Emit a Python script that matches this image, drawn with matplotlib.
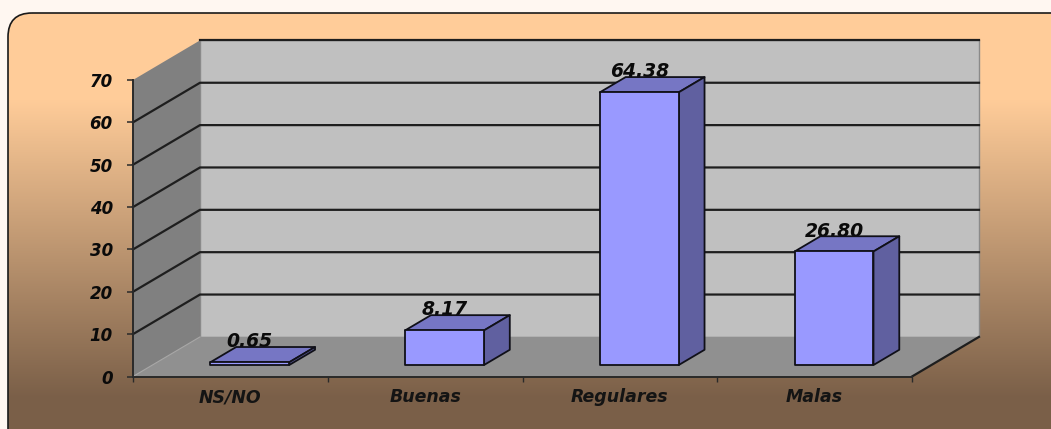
#!/usr/bin/env python3
# -*- coding: utf-8 -*-
"""3D-look column chart drawn on a flat axes with an oblique projection"""

import numpy as np
import matplotlib
matplotlib.use("Agg")
import matplotlib.pyplot as plt
from matplotlib.colors import LinearSegmentedColormap
from matplotlib.patches import FancyBboxPatch, Polygon

categories = ["NS/NO", "Buenas", "Regulares", "Malas"]
values = [0.65, 8.17, 64.38, 26.80]
value_labels = ["0.65", "8.17", "64.38", "26.80"]
y_ticks = [0, 10, 20, 30, 40, 50, 60, 70]

W, H = 1051, 429
FONT = "DejaVu Sans"

# oblique projection, in data units
DEPTH_X = 0.344
DEPTH_Y = 9.35
BAR_WIDTH = 0.405
BAR_D0 = 0.29
BAR_D1 = 0.675
Y_MAX = 70


def proj(x, y, d):
    return (x + d * DEPTH_X, y + d * DEPTH_Y)


def face(ax, pts, color, edge="none", lw=0, z=1):
    ax.add_patch(Polygon(pts, closed=True, facecolor=color, edgecolor=edge,
                         linewidth=lw, zorder=z, clip_on=False, joinstyle="round"))


fig = plt.figure(figsize=(W / 100, H / 100), dpi=100, facecolor="#FFF7F1")

# background panel with gradient
bg = fig.add_axes([0, 0, 1, 1])
bg.set_xlim(0, W)
bg.set_ylim(H, 0)
bg.axis("off")
cmap = LinearSegmentedColormap.from_list(
    "panel", [(0, "#FFCC99"), (0.233, "#FFCC99"), (0.93, "#7A5F48"), (1, "#7A5F48")], N=1024)
img = bg.imshow(np.linspace(0, 1, 429).reshape(-1, 1), extent=[0, W, H, 0], aspect="auto", cmap=cmap, zorder=1)
panel = FancyBboxPatch((24, 29), W + 60, H + 60, boxstyle="round,pad=16,rounding_size=24",
                       facecolor="none", edgecolor="#1A1A1A", linewidth=1.2, zorder=2)
bg.add_patch(panel)
img.set_clip_path(panel)

# plot area, the front plane of the box
ax = fig.add_axes([133 / W, 1 - 376.5 / H, 779 / W, 296.5 / H])
ax.set_xlim(0, len(categories))
ax.set_ylim(0, Y_MAX)
ax.patch.set_alpha(0)

n = len(categories)
face(ax, [proj(0, 0, 1), proj(n, 0, 1), proj(n, Y_MAX, 1), proj(0, Y_MAX, 1)], "#C0C0C0", "#8A8A8A", 1.0, z=1)
face(ax, [proj(0, 0, 0), proj(0, 0, 1), proj(0, Y_MAX, 1), proj(0, Y_MAX, 0)], "#808080", z=1)
face(ax, [proj(0, 0, 0), proj(n, 0, 0), proj(n, 0, 1), proj(0, 0, 1)], "#909090", z=1)

# gridlines on both walls; the top one runs along the back wall only
for t in y_ticks[1:]:
    d_start = 1 if t == Y_MAX else 0
    xs, ys = zip(proj(0, t, d_start), proj(0, t, 1), proj(n, t, 1))
    ax.plot(xs, ys, color="#1E1E1E", lw=1.6, zorder=2, clip_on=False)
xs, ys = zip(proj(n, 0, 0), proj(n, 0, 1))
ax.plot(xs, ys, color="#1E1E1E", lw=1.6, zorder=2, clip_on=False)
xs, ys = zip(proj(0, 0, 0), proj(0, 0, 1))
ax.plot(xs, ys, color="#A8A8A8", lw=0.8, zorder=2, clip_on=False)

# bars and their labels; the labels sit behind the top faces
for i, (val, lab) in enumerate(zip(values, value_labels)):
    x0 = i + 0.5 - BAR_WIDTH / 2
    x1 = i + 0.5 + BAR_WIDTH / 2
    z = 4 + i
    cx, cy = proj(i + 0.5, val, BAR_D0)
    ax.annotate(lab, (cx, cy), xytext=(0, 14.7), textcoords="offset points", ha="center", va="center",
                fontsize=13.5, fontweight="bold", fontstyle="italic", family=FONT, color="#0A0A0A",
                zorder=z, annotation_clip=False)
    face(ax, [proj(x0, val, BAR_D0), proj(x1, val, BAR_D0), proj(x1, val, BAR_D1), proj(x0, val, BAR_D1)],
         "#7676C4", "#101018", 1.3, z=z + 0.1)
    face(ax, [proj(x1, 0, BAR_D0), proj(x1, 0, BAR_D1), proj(x1, val, BAR_D1), proj(x1, val, BAR_D0)],
         "#6060A0", "#101018", 1.3, z=z + 0.1)
    face(ax, [proj(x0, 0, BAR_D0), proj(x1, 0, BAR_D0), proj(x1, val, BAR_D0), proj(x0, val, BAR_D0)],
         "#9999FF", "#101018", 1.3, z=z + 0.2)

# axes
for s in ["top", "right"]:
    ax.spines[s].set_visible(False)
for s in ["left", "bottom"]:
    ax.spines[s].set_color("#2A2A2A")
    ax.spines[s].set_linewidth(1.4)
    ax.spines[s].set_zorder(3)

ax.set_yticks(y_ticks)
ax.set_yticklabels([str(t) for t in y_ticks], fontsize=12, fontweight="bold", fontstyle="italic",
                   family=FONT, color="#0A0A0A")
ax.tick_params(axis="y", length=4.5, width=1.1, color="#2A2A2A", pad=10)
ax.set_xticks(range(n + 1))
ax.set_xticklabels([])
ax.tick_params(axis="x", length=3.5, width=1.0, color="#2A2A2A")
ax.set_xticks([i + 0.5 for i in range(n)], minor=True)
ax.set_xticklabels(categories, minor=True, fontsize=12.5, fontweight="bold", fontstyle="italic",
                   family=FONT, color="#141414")
ax.tick_params(axis="x", which="minor", length=0, pad=8.5)

fig.savefig("out.png", dpi=100, facecolor=fig.get_facecolor())
